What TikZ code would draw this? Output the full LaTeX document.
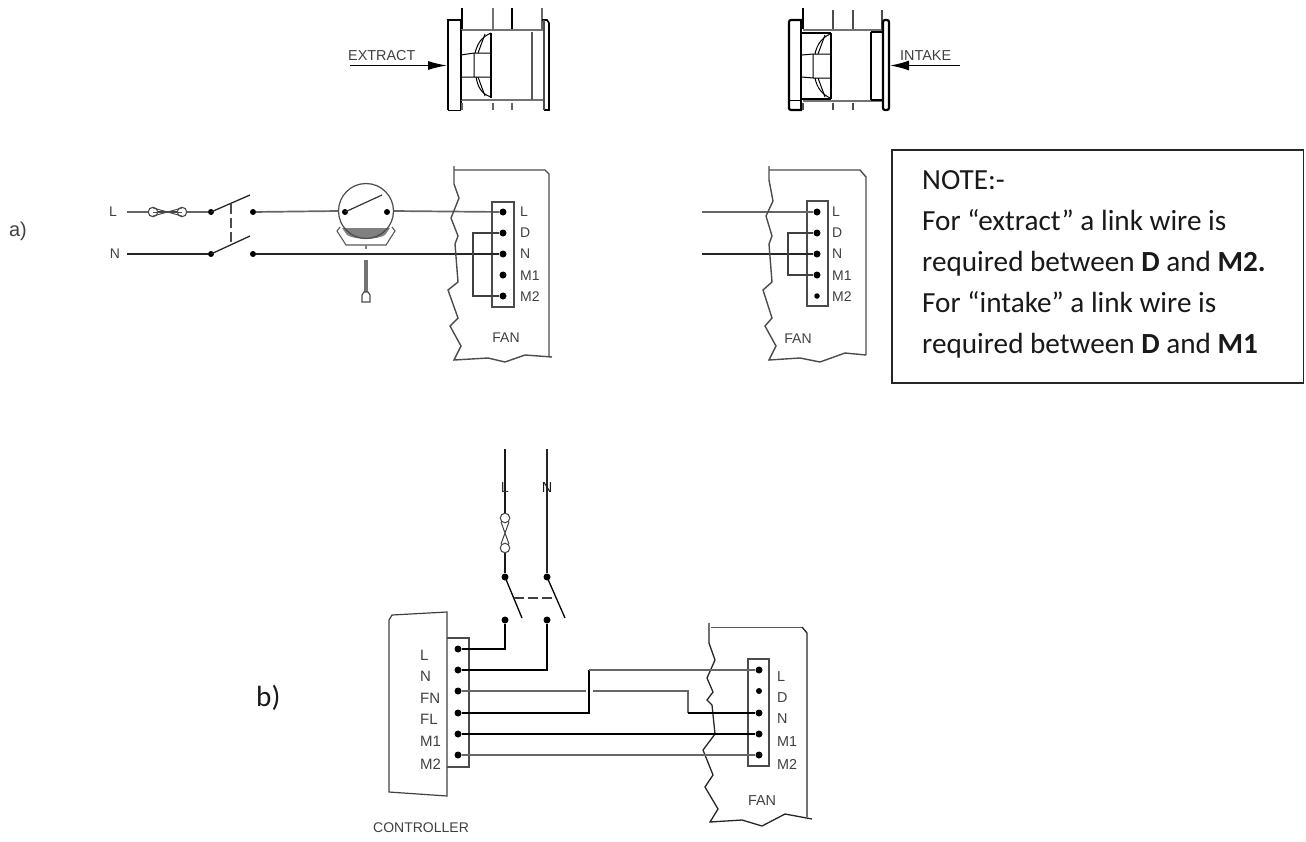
\documentclass[tikz,border=0pt]{standalone}
\usepackage{fontspec}
\usetikzlibrary{arrows.meta}
\setmainfont{Carlito}
\newfontfamily\lab{Liberation Sans}
\tikzset{
 x=1pt,y=-1pt,
 wire/.style={line width=1.7pt,draw=black!60},
 thin wire/.style={line width=1.2pt,draw=black!60},
 bold wire/.style={line width=1.7pt,draw=black!90},
 dark wire/.style={line width=1.3pt,draw=black!85},
 term/.style={circle,fill=black,inner sep=0pt,minimum size=7pt},
 fuse end/.style={circle,draw=black!70,fill=white,line width=1.1pt,inner sep=0pt,minimum size=9.5pt},
 lbl/.style={font=\lab\fontsize{14}{14}\selectfont,text=black!75,inner sep=0pt},
 frame/.style={line width=1.4pt,draw=black!70},
}
\begin{document}
\begin{tikzpicture}
\useasboundingbox (0,0) rectangle (1306,841);
% ---------- top left fan
\draw[line width=2.2pt] (448,110) -- (448,20) -- (461,20) -- (461,110);
\draw[line width=1pt] (448,110) -- (461,110);
\draw[line width=1.4pt] (462,8) -- (462,30);
\draw[line width=1.2pt,black!55] (493,8) -- (493,29);
\draw[line width=1.4pt] (512,8) -- (512,29);
\draw[line width=1.2pt,black!60] (542,8) -- (542,29);
\draw[line width=1.2pt,black!60] (462,103) -- (462,110) (493,103) -- (493,110) (512,103) -- (512,110);
\draw[line width=2.4pt,black!55] (461,30) -- (544,30);
\draw[line width=2.4pt,black!55] (461,100) -- (544,100);
\draw[line width=2pt] (461,30) -- (461,100);
\draw[line width=1.6pt] (491,33) -- (491,98);
\draw[line width=1.6pt,black!65] (532,32) -- (532,100);
\draw[line width=1.6pt] (542,20) -- (547,20) -- (549,23) -- (549,110) -- (544,110);
\draw[line width=1.4pt,black!70] (544,20) -- (544,110);
\draw[line width=1pt] (461,55) -- (474,53) (461,77) -- (474,77) (474,53) -- (491,53) (474,77) -- (491,77) (474,53) -- (474,77);
\draw[line width=1pt] (475,53) .. controls (478,42) and (482,37) .. (491,33);
\draw[line width=1pt] (476,77) .. controls (478,88) and (482,94) .. (491,97);
\draw[line width=1pt] (485,34) -- (478,53) (485,96) -- (478,77);
\node[lbl,anchor=base west,font=\lab\fontsize{14.4}{14}\selectfont] (ext) at (348,60) {EXTRACT};
\coordinate (extA) at (350,65.5);
\coordinate (extB) at (447,65.5);
\draw[line width=1.3pt,-{Latex[length=19pt,width=9pt]}] (extA) -- (extB);
% ---------- top right fan
\draw[line width=2.2pt,rounded corners=2pt] (802,110) -- (789,110) -- (789,20) -- (802,20);
\draw[line width=2pt] (801,20) -- (801,110);
\draw[line width=1pt] (790,100) -- (800,100);
\draw[line width=1.4pt] (803,8) -- (803,29);
\draw[line width=1.2pt,black!70] (833,10) -- (833,29) (853,10) -- (853,29) (882,10) -- (882,29);
\draw[line width=1.2pt,black!70] (803,103) -- (803,110) (833,103) -- (833,110) (853,103) -- (853,110);
\draw[line width=2.2pt,black!55] (803,30) -- (882,30);
\draw[line width=2.2pt,black!55] (803,101) -- (882,101);
\draw[line width=2pt] (802,33) -- (831,33);
\draw[line width=2pt] (802,99) -- (831,99);
\draw[line width=1.6pt] (831,33) -- (831,99);
\draw[line width=1.6pt] (871,32) -- (871,100) (871,32) -- (884,32) (871,100) -- (884,100);
\draw[line width=2.2pt,rounded corners=2pt] (883,20) -- (889,20) -- (889,110) -- (883,110) -- cycle;
\draw[line width=1pt] (802,55) -- (813,54) -- (830,54) (802,77) -- (813,78) -- (830,78) (813,54) -- (813,78);
\draw[line width=1pt] (815,54) .. controls (817,44) and (822,38) .. (830,34);
\draw[line width=1pt] (815,78) .. controls (817,88) and (822,94) .. (830,98);
\draw[line width=1pt] (825,35) -- (818,54) (825,97) -- (818,78);
\node[lbl,anchor=base west,font=\lab\fontsize{14.4}{14}\selectfont] (int) at (900,60.5) {INTAKE};
\coordinate (intA) at (960,65.5);
\coordinate (intB) at (890,65.5);
\draw[line width=1.3pt,-{Latex[length=19pt,width=10pt]}] (intA) -- (intB);
% ---------- a)
\node[font=\lab\fontsize{20}{20}\selectfont,text=black!75,inner sep=0pt] (lblA) at (18,231) {a)};
\node[lbl] (aL) at (113,212) {L};
\node[lbl] (aN) at (115,254) {N};
\node[term,minimum size=6pt] (s1) at (211,212) {};
\node[term,minimum size=6pt] (s2) at (253,212) {};
\node[term,minimum size=6pt] (s3) at (211,254) {};
\node[term,minimum size=6pt] (s4) at (253,254) {};
\node[fuse end] (f1) at (153,212) {};
\node[fuse end] (f2) at (182,212) {};
\coordinate (aLs) at (127,212);
\coordinate (aNs) at (127,254);
\draw[wire] (aLs) -- (f1) (f2) -- (s1);
\draw[line width=1.6pt,black!75] (f1.east) -- (f2.west);
\draw[line width=1pt,black!70] (f1.center) -- (f2.center);
\draw[line width=1pt,black!70] (153,208) -- (182,216) (153,216) -- (182,208);
\draw[dark wire] (aNs) -- (s3);
\draw[dark wire] (s1.center) -- (250,195);
\draw[dark wire] (s3.center) -- (250,236);
\draw[line width=1.2pt,black!70,dash pattern=on 10pt off 4pt] (231,204) -- (231,245);
% Fan left terminals
\node[term] (a1L) at (503,212) {};
\node[term] (a1D) at (503,233) {};
\node[term] (a1N) at (503,254) {};
\node[term] (a1M) at (503,275) {};
\node[term] (a1Q) at (503,296) {};
% Timer symbol
\fill[black!50] (342,228) -- (390,228) -- (385,235) .. controls (378,240) and (354,240) .. (347,235) -- cycle;
\node[circle,draw=black!70,line width=1.2pt,inner sep=0pt,minimum size=55pt] (tm) at (366,211) {};
\node[term,minimum size=6pt] (t1) at (345,212) {};
\node[term,minimum size=6pt] (t2) at (387,212) {};
\draw[wire] (s2) -- (tm.west);
\draw[wire] (tm.east) -- (a1L);
\draw[line width=1.2pt,black!80] (t1.center) -- (382,195);
\draw[line width=1.1pt,black!65] (340,227) -- (337,231) -- (346,245) -- (386,245) -- (395,231) -- (392,227);
\draw[line width=2.5pt,black!50] (366,245) -- (366,249);
\draw[line width=4.5pt,black!55] (366,260) -- (366,292);
\draw[line width=1.2pt,black!70,fill=white] (362,302) -- (362,295) -- (364,292) -- (368,292) -- (370,295) -- (370,302) -- cycle;
% Fan left
\draw[frame] (492,202) rectangle (514,307);
\foreach \t/\yy in {L/212,D/233,N/254,M1/276,M2/297} \node[lbl,anchor=west] at (520,\yy) {\t};
\node[lbl] (fanA) at (506,338) {FAN};
\draw[dark wire] (s4) -- (a1N);
\draw[dark wire,black!75] (a1D) -- (473,233) -- (473,296) -- (a1Q);
\draw[frame] (454,166) -- (454,184) -- (459,198) -- (451,218) -- (458,236) -- (455,244) -- (458,282) -- (448,290) -- (458,318) -- (450,326) -- (461,346) -- (454,360) -- (488,358) -- (505,362) -- (525,355) -- (552,357);
\draw[frame] (454,170) -- (545,170) -- (549,174) -- (549,357);
% Fan right
\node[term] (b1L) at (817,212) {};
\node[term] (b1D) at (817,233) {};
\node[term] (b1N) at (817,254) {};
\node[term] (b1M) at (817,275) {};
\node[term,minimum size=5.5pt] (b1Q) at (817,296) {};
\draw[frame] (807,201) rectangle (828,306);
\foreach \t/\yy in {L/212,D/233,N/254,M1/276,M2/297} \node[lbl,anchor=west] at (832,\yy) {\t};
\node[lbl] (fanB) at (798,339) {FAN};
\coordinate (bLs) at (702,212);
\coordinate (bNs) at (702,254);
\draw[wire] (bLs) -- (b1L);
\draw[dark wire] (bNs) -- (b1N);
\draw[line width=1.1pt,black!75] (b1D) -- (788,233) -- (788,275) -- (b1M);
\draw[frame] (769,166) -- (769,180) -- (773,201) -- (766,216) -- (772,236) -- (769,244) -- (772,282) -- (763,290) -- (772,318) -- (765,326) -- (776,346) -- (769,360) -- (800,358) -- (820,362) -- (845,353) -- (866,355);
\draw[frame] (769,170) -- (860,170) -- (866,177) -- (866,355);
% Note
\node[draw=black!85,line width=1.8pt,rectangle,inner sep=0pt,minimum width=411.5pt,minimum height=233pt] (note) at (1097.7,266.5) {};
\node[anchor=base west,align=left,inner sep=0pt,font=\fontsize{29.2}{41}\selectfont,text=black!90] (noteT) at (922,353)
 {NOTE:-\\For “extract” a link wire is\\required between \textbf{D} and \textbf{M2.}\\For “intake” a link wire is\\required between \textbf{D} and \textbf{M1}};
% ---------- b)
\node[anchor=base west,font=\fontsize{29.2}{30}\selectfont,inner sep=0pt,text=black!90] (lblB) at (256,706) {b)};
\node[term] (cL1) at (505,577) {};
\node[term] (cN1) at (547,577) {};
\node[term] (cL2) at (505,620) {};
\node[term] (cN2) at (547,620) {};
\node[fuse end] (g1) at (505,518) {};
\node[fuse end] (g2) at (505,548) {};
\coordinate (topL) at (505,449);
\coordinate (topN) at (547,449);
\draw[bold wire] (topL) -- (g1) (g2) -- (cL1);
\draw[dark wire] (topN) -- (cN1);
\draw[line width=1pt,black!75] (501,522) -- (509,544) (509,522) -- (501,544);
\node[inner sep=0pt,font=\lab\fontsize{14.5}{14}\selectfont,text=black!80] (tL) at (505,488) {L};
\node[inner sep=0pt,font=\lab\fontsize{14.5}{14}\selectfont,text=black!90] (tN) at (547,488) {N};
\draw[line width=1.3pt] (cL1.center) -- (522,618);
\draw[line width=1.3pt] (cN1.center) -- (565,618);
\draw[line width=1.2pt,black!75,dash pattern=on 10pt off 4pt] (514,598) -- (556,598);
% controller
\draw[line width=1.2pt,black!75] (447,638) -- (447,612) -- (392,615) -- (389,620) -- (389,792) -- (447,796) -- cycle;
\draw[line width=1.2pt,black!70] (447,638) -- (469,638) -- (469,767) -- (447,767);
\node[term] (cc1) at (458,649) {};
\node[term] (cc2) at (458,670) {};
\node[term] (cc3) at (458,691) {};
\node[term] (cc4) at (458,713) {};
\node[term] (cc5) at (458,734) {};
\node[term] (cc6) at (458,755) {};
\foreach \t/\yy in {L/655,N/676,FN/698,FL/719,M1/741,M2/764} \node[lbl,anchor=west,font=\lab\fontsize{15}{15}\selectfont] at (420,\yy) {\t};
\node[lbl,anchor=west] (ctrl) at (373,828) {CONTROLLER};
% fan b
\node[term] (dL) at (759,670) {};
\node[term,minimum size=6pt] (dD) at (759,691) {};
\node[term] (dN) at (759,713) {};
\node[term] (dM) at (759,734) {};
\node[term] (dQ) at (759,755) {};
\draw[line width=1.2pt,black!70] (748,659) rectangle (769,766);
\foreach \t/\yy in {L/677,D/698,N/719,M1/742,M2/764} \node[lbl,anchor=west,font=\lab\fontsize{14.4}{14}\selectfont] at (777,\yy) {\t};
\node[lbl,font=\lab\fontsize{14.4}{14}\selectfont] (fanC) at (762,801) {FAN};
\draw[line width=1.3pt,black!85] (709,623) -- (709,643) -- (715,660) -- (707,678) -- (713,692) -- (707,700) -- (712,705) -- (715,734) -- (703,750) -- (713,775) -- (705,787) -- (718,809) -- (710,822) -- (742,820) -- (762,826) -- (785,814) -- (812,819);
\draw[line width=1pt,black!65] (711,627) -- (802,627);
\draw[line width=1.3pt,black!85] (802,627) -- (807,633) -- (807,817);
% b wires
\draw[line width=1.4pt] (cc1) -- (505,649) -- (cL2);
\draw[line width=1.4pt] (cc2) -- (547,670) -- (cN2);
\draw[thin wire] (cc3) -- (586,691);
\draw[thin wire] (593,691) -- (688,691) -- (688,713);
\draw[line width=1.5pt] (688,713) -- (dN);
\draw[line width=1.5pt] (cc4) -- (589,713) -- (589,670);
\draw[thin wire] (589,670) -- (dL);
\draw[line width=1.5pt] (cc5) -- (dM);
\draw[thin wire] (cc6) -- (dQ);
\end{tikzpicture}
\end{document}
